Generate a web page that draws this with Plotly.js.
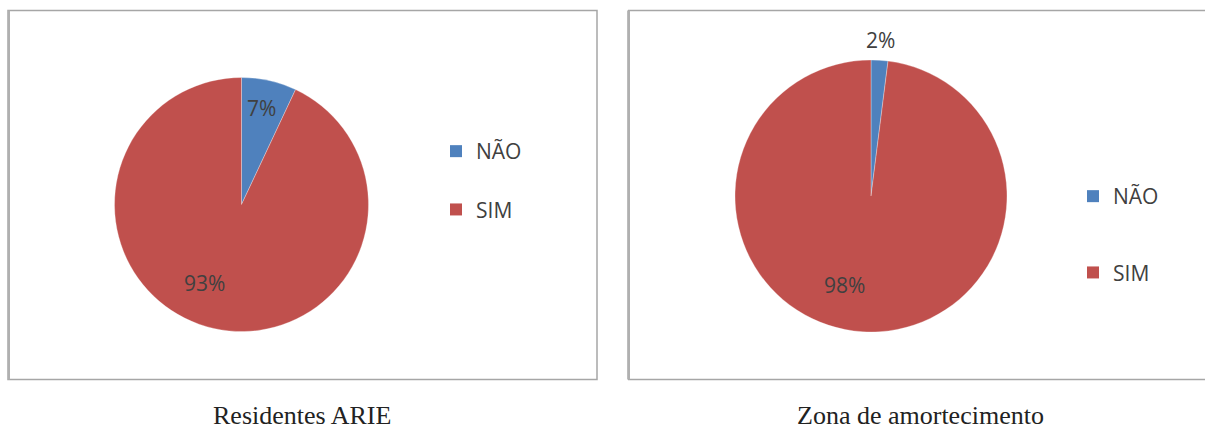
<!DOCTYPE html>
<html>
<head>
<meta charset="utf-8">
<script src="https://cdn.plot.ly/plotly-3.0.1.min.js"></script>
<style>
html,body{margin:0;padding:0;background:#fff;overflow:hidden;}
#chart{width:1205px;height:432px;}
</style>
</head>
<body>
<div id="chart"></div>
<script>
// ---- data ----
const categories = ["NÃO", "SIM"];
const residentesValues = [7, 93];
const zonaValues = [2, 98];
const chartTitles = ["Residentes ARIE", "Zona de amortecimento"];
const sliceColors = ["#4F81BD", "#C0504D"];

// ---- layout helpers ----
const W = 1205, H = 432;
const px = x => x / W;
const py = y => 1 - y / H;
const textColor = "#404040";
const labelFont = {family: "Open Sans, sans-serif", size: 21, color: textColor};
const legendFont = {family: "Open Sans, sans-serif", size: 21, color: textColor};

function pct(values, i) {
  const s = values.reduce((a, b) => a + b, 0);
  return Math.round(values[i] / s * 100) + "%";
}

function pieDomain(cx, cy, r) {
  return {x: [px(cx - r), px(cx + r)], y: [py(cy + r), py(cy - r)]};
}

const traces = [
  {
    type: "pie", labels: categories, values: residentesValues,
    marker: {colors: sliceColors, line: {color: "rgba(255,255,255,0.6)", width: 0.5}},
    sort: false, direction: "clockwise", rotation: 0,
    textinfo: "none", hoverinfo: "label+percent", showlegend: false,
    domain: pieDomain(241.5, 204.5, 127)
  },
  {
    type: "pie", labels: categories, values: zonaValues,
    marker: {colors: sliceColors, line: {color: "rgba(255,255,255,0.6)", width: 0.5}},
    sort: false, direction: "clockwise", rotation: 0,
    textinfo: "none", hoverinfo: "label+percent", showlegend: false,
    domain: pieDomain(871, 196, 136)
  }
];

// legend entries (one legend per panel)
["legend", "legend2"].forEach((lg, k) => {
  categories.forEach((c, i) => {
    traces.push({
      type: "scatter", mode: "markers", x: [null], y: [null],
      name: c, legend: lg, legendgroup: lg + "_" + i,
      marker: {symbol: "square", size: 12, color: sliceColors[i]},
      hoverinfo: "skip", showlegend: true
    });
  });
});

const legendBase = {
  font: legendFont, bgcolor: "rgba(0,0,0,0)", borderwidth: 0,
  xanchor: "left", yanchor: "middle", itemclick: false, itemdoubleclick: false,
  traceorder: "grouped"
};

const annotations = [
  {x: px(261), y: py(108), text: pct(residentesValues, 0)},
  {x: px(204), y: py(283), text: pct(residentesValues, 1)},
  {x: px(880), y: py(40), text: pct(zonaValues, 0)},
  {x: px(845), y: py(285), text: pct(zonaValues, 1)}
].map(a => Object.assign({xref: "paper", yref: "paper", showarrow: false,
  xanchor: "center", yanchor: "middle", font: labelFont}, a));

[[302, chartTitles[0]], [921, chartTitles[1]]].forEach(([x, t]) => annotations.push({
  x: px(x), y: 0, text: t, xref: "paper", yref: "paper",
  showarrow: false, xanchor: "center", yanchor: "bottom",
  font: {family: "Liberation Serif, serif", size: 26, color: "#222"}
}));

const borderLine = {color: "#A6A6A6", width: 1.5};
const edgeLine = {color: "#B0B0B0", width: 2};
const seg = (x0, y0, x1, y1, line) => ({type: "line", xref: "paper", yref: "paper",
  x0: px(x0), y0: py(y0), x1: px(x1), y1: py(y1), line: line});
const shapes = [
  {type: "rect", xref: "paper", yref: "paper", x0: px(8), x1: px(597), y0: py(379.5), y1: py(10.5), line: borderLine},
  seg(9, 10.5, 9, 379.5, edgeLine),
  seg(628, 10.5, 1205, 10.5, borderLine),
  seg(628, 379.5, 1205, 379.5, borderLine),
  seg(628, 10.5, 628, 379.5, borderLine),
  seg(629, 10.5, 629, 379.5, edgeLine)
];

const layout = {
  width: W, height: H,
  margin: {l: 0, r: 0, t: 0, b: 0},
  paper_bgcolor: "#fff", plot_bgcolor: "rgba(0,0,0,0)",
  xaxis: {visible: false, range: [0, 1], showline: false, zeroline: false, showgrid: false},
  yaxis: {visible: false, range: [0, 1], showline: false, zeroline: false, showgrid: false},
  legend: Object.assign({}, legendBase, {x: px(436), y: py(180.5), tracegroupgap: 28}),
  legend2: Object.assign({}, legendBase, {x: px(1073), y: py(234.5), tracegroupgap: 46}),
  annotations: annotations,
  shapes: shapes,
  showlegend: true
};

Plotly.newPlot("chart", traces, layout, {displayModeBar: false, staticPlot: true});
</script>
</body>
</html>
